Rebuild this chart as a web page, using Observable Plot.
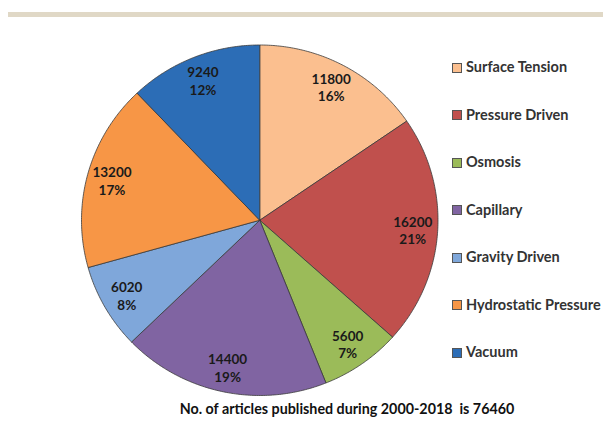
<!DOCTYPE html>
<html>
<head>
<meta charset="utf-8">
<script src="https://cdn.jsdelivr.net/npm/d3@7"></script>
<script src="https://cdn.jsdelivr.net/npm/@observablehq/plot@0.6"></script>
<style>
  html, body { margin: 0; padding: 0; background: #fff; }
  #wrap { position: relative; width: 603px; height: 426px; overflow: hidden; font-family: Lato, "Open Sans", sans-serif; }
  #rule { position: absolute; left: 8px; top: 12px; width: 595px; height: 5px; background: #e0d8c6; }
  #chart { position: absolute; left: 0; top: 0; }
  #legend { position: absolute; left: 452px; top: 43px; }
  .item { height: 47.5px; display: flex; align-items: center; font-weight: bold; font-size: 14.5px; color: #333; white-space: nowrap; }
  .sw { width: 10px; height: 10px; border: 1px solid #555; margin-right: 4px; box-sizing: border-box; position: relative; top: 1px; flex: none; }
  #caption { position: absolute; left: 0; width: 694px; top: 400px; text-align: center; font-weight: bold; font-size: 14.3px; color: #111; white-space: pre; }
</style>
</head>
<body>
<div id="wrap">
  <div id="rule"></div>
  <div id="chart"></div>
  <div id="legend"></div>
  <div id="caption"></div>
</div>
<script>
const categories = ["Surface Tension", "Pressure Driven", "Osmosis", "Capillary", "Gravity Driven", "Hydrostatic Pressure", "Vacuum"];
const counts = [11800, 16200, 5600, 14400, 6020, 13200, 9240];
const percentLabels = ["16%", "21%", "7%", "19%", "8%", "17%", "12%"];
const colors = ["#fbbf8f", "#c0504d", "#9bbb59", "#8064a2", "#7fa7da", "#f79646", "#2c6db6"];
const captionText = "No. of articles published during 2000-2018  is 76460";

const total = d3.sum(counts);
const pie = d3.pie().sort(null).value(d => d)(counts);

const pts = [];
const labels = [];
pie.forEach((p, i) => {
  const cat = categories[i];
  pts.push({cat, x: 0, y: 0});
  const steps = Math.max(2, Math.ceil((p.endAngle - p.startAngle) / 0.01));
  for (let k = 0; k <= steps; k++) {
    const a = p.startAngle + (p.endAngle - p.startAngle) * k / steps;
    pts.push({cat, x: Math.sin(a), y: Math.cos(a)});
  }
  pts.push({cat, x: 0, y: 0});
  const m = (p.startAngle + p.endAngle) / 2;
  labels.push({cat, x: 0.86 * Math.sin(m), y: 0.86 * Math.cos(m), text: counts[i] + "\n" + percentLabels[i]});
});

const chart = Plot.plot({
  width: 603,
  height: 400,
  marginLeft: 81,
  marginRight: 603 - 437.5,
  marginTop: 44.5,
  marginBottom: 5,
  x: {domain: [-1, 1], axis: null},
  y: {domain: [-1, 1], axis: null},
  color: {domain: categories, range: colors},
  style: {background: "transparent", overflow: "visible"},
  marks: [
    Plot.line(pts, {x: "x", y: "y", z: "cat", fill: "cat", stroke: "#3a3a3a", strokeWidth: 0.8, strokeLinejoin: "miter", curve: "linear"}),
    Plot.text(labels, {x: "x", y: "y", text: "text", fontSize: 13.5, fontWeight: "bold", fill: "#1a1a1a", lineHeight: 1.3, fontFamily: "Lato, 'Open Sans', sans-serif"})
  ]
});
document.getElementById("chart").appendChild(chart);

const legend = document.getElementById("legend");
categories.forEach((c, i) => {
  const item = document.createElement("div");
  item.className = "item";
  const sw = document.createElement("span");
  sw.className = "sw";
  sw.style.background = colors[i];
  const t = document.createElement("span");
  t.textContent = c;
  item.appendChild(sw);
  item.appendChild(t);
  legend.appendChild(item);
});
document.getElementById("caption").textContent = captionText;
</script>
</body>
</html>
